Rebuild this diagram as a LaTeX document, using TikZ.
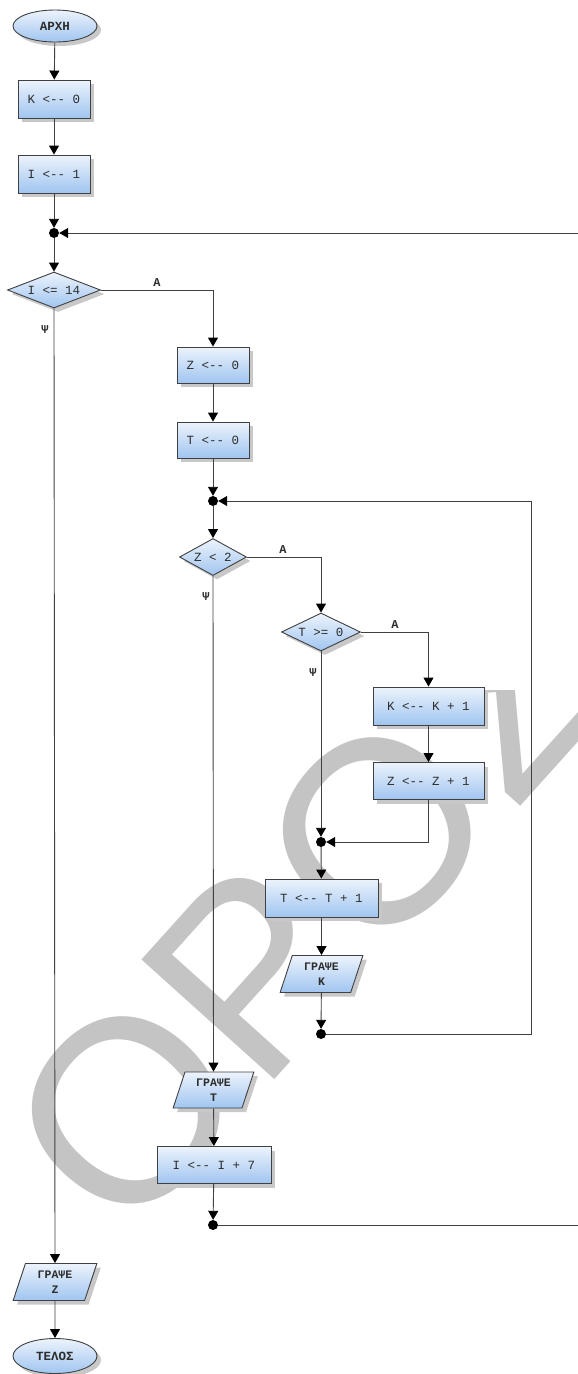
\documentclass[tikz,border=0pt]{standalone}
\usepackage{fontspec}
\usetikzlibrary{shapes.geometric,arrows.meta,shadows}
\newfontfamily\fcmono{Liberation Mono}
\newfontfamily\wmfont{Liberation Sans}
\definecolor{boxtop}{RGB}{236,243,252}
\definecolor{boxbot}{RGB}{160,197,240}
\definecolor{edgegray}{RGB}{64,64,64}
\definecolor{inkgray}{RGB}{45,45,45}
\definecolor{shadowgray}{RGB}{200,200,200}
\definecolor{markgray}{RGB}{196,196,196}
% assignment arrow, kept from turning -- into a dash
\newcommand\asgn{<-\kern0pt-}
\tikzset{
  base/.style={draw=edgegray, line width=0.9pt, top color=boxtop, bottom color=boxbot,
    drop shadow={shadow xshift=4pt, shadow yshift=-4pt, fill=shadowgray, opacity=1},
    font=\fcmono\fontsize{12.5}{14}\selectfont, text=inkgray, inner sep=0pt},
  proc/.style={base, rectangle},
  term/.style={base, ellipse, minimum width=84pt, minimum height=32pt,
    font=\fcmono\bfseries\fontsize{12.5}{14}\selectfont},
  test/.style={base, diamond, aspect=2},
  io/.style={base, trapezium, trapezium left angle=72, trapezium right angle=108,
    trapezium stretches=true, align=center,
    font=\fcmono\bfseries\fontsize{11.5}{14.5}\selectfont},
  joint/.style={circle, fill=black, inner sep=0pt, minimum size=10pt},
  flow/.style={draw=edgegray, line width=0.9pt},
  arr/.style={flow, -{Triangle[width=10pt, length=9pt, color=black]}},
  tag/.style={font=\fcmono\bfseries\fontsize{12}{14}\selectfont, text=inkgray, inner sep=0pt},
}
\begin{document}
\begin{tikzpicture}[x=1pt, y=-1pt]
\useasboundingbox (0,0) rectangle (578,1374);

% watermark behind the lower part of the chart
\begin{scope}
  \clip (0,690) rectangle (578,1374);
  \node[rotate=48, anchor=base west, inner sep=0pt, text=markgray,
        font=\wmfont\fontsize{260}{260}\selectfont] (mark) at (125,1246) {ΟΡΟΣΗΜΟ};
\end{scope}

% outer loop
\node[term] (start) at (55,26) {ΑΡΧΗ};
\node[proc, minimum width=72pt, minimum height=38pt] (k0) at (54,99) {K \asgn{} 0};
\node[proc, minimum width=72pt, minimum height=38pt] (i1) at (54,174) {I \asgn{} 1};
\node[joint] (j1) at (54,233) {};
\coordinate (e1) at (578,233);
\node[test, minimum width=93pt, minimum height=36pt] (c1) at (54,290) {I <= 14};
\node[tag] (a1) at (157,283) {Α};
\node[tag] (n1) at (45,330) {Ψ};

% middle loop
\node[proc, minimum width=72pt, minimum height=36pt] (z0) at (213,365) {Z \asgn{} 0};
\node[proc, minimum width=72pt, minimum height=36pt] (t0) at (213,440) {T \asgn{} 0};
\node[joint] (j2) at (213,501) {};
\coordinate (r2) at (531,501);
\node[test, minimum width=67pt, minimum height=37pt] (c2) at (213,557) {Z < 2};
\node[tag] (a2) at (283,550) {Α};
\node[tag] (n2) at (206,597) {Ψ};

% inner test
\node[test, minimum width=79pt, minimum height=38pt] (c3) at (321,632) {T >= 0};
\node[tag] (a3) at (395,625) {Α};
\node[tag] (n3) at (313,673) {Ψ};
\node[proc, minimum width=111pt, minimum height=38pt] (kk) at (428.5,706) {K \asgn{} K + 1};
\node[proc, minimum width=111pt, minimum height=37pt] (zz) at (428.5,781) {Z \asgn{} Z + 1};
\node[joint] (j3) at (321,842) {};
\node[proc, minimum width=113pt, minimum height=38pt] (tt) at (321.5,898) {T \asgn{} T + 1};
\node[io, minimum width=83pt, minimum height=37pt] (wk) at (321.5,974) {ΓΡΑΨΕ\\K};
\node[joint] (j4) at (321,1034) {};

% after the middle loop
\node[io, minimum width=81pt, minimum height=36pt] (wt) at (213.5,1090) {ΓΡΑΨΕ\\T};
\node[proc, minimum width=114pt, minimum height=37pt] (ii) at (214,1165) {I \asgn{} I + 7};
\node[joint] (j5) at (213,1225) {};
\coordinate (e2) at (578,1225);

% end
\node[io, minimum width=84pt, minimum height=37pt] (wz) at (55,1282) {ΓΡΑΨΕ\\Z};
\node[term, minimum height=35pt] (end) at (55,1356) {ΤΕΛΟΣ};

% connectors
\draw[arr] (start) -- (k0);
\draw[arr] (k0) -- (i1);
\draw[arr] (i1) -- (j1);
\draw[arr] (e1) -- (j1);
\draw[arr] (j1) -- (c1);
\draw[arr] (c1.east) -| (z0.north);
\draw[arr] (c1.south) -- (wz.north);
\draw[arr] (z0) -- (t0);
\draw[arr] (t0) -- (j2);
\draw[arr] (j2) -- (c2);
\draw[arr] (c2.east) -| (c3.north);
\draw[arr] (c2.south) -- (wt.north);
\draw[arr] (c3.east) -| (kk.north);
\draw[arr] (c3.south) -- (j3);
\draw[arr] (kk) -- (zz);
\draw[arr] (zz.south) |- (j3);
\draw[arr] (j3) -- (tt);
\draw[arr] (tt) -- (wk);
\draw[arr] (wk) -- (j4);
\draw[arr] (j4) -| (r2) -- (j2);
\draw[arr] (wt) -- (ii);
\draw[arr] (ii) -- (j5);
\draw[flow] (j5) -- (e2);
\draw[arr] (wz) -- (end);
\end{tikzpicture}
\end{document}
